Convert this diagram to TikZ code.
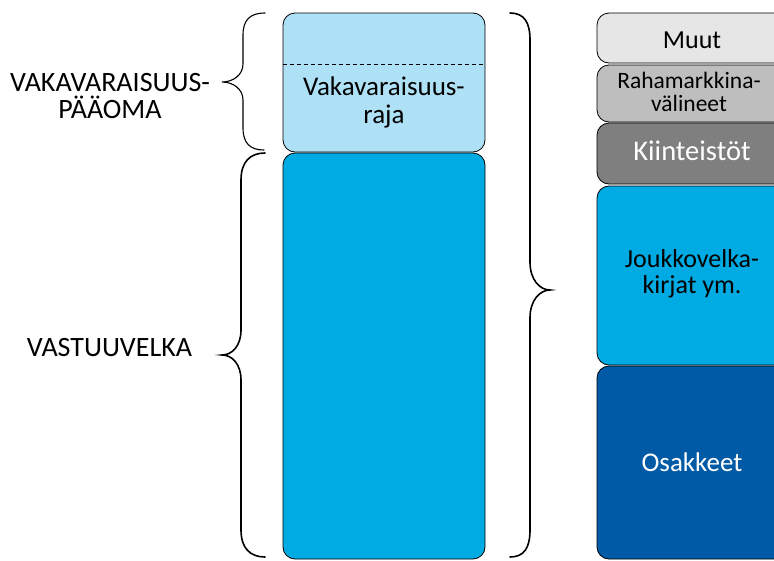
\documentclass[tikz,border=0pt]{standalone}
\usepackage{fontspec}
\setmainfont{Carlito}
\definecolor{lightblue}{HTML}{AEE1F6}
\definecolor{midblue}{HTML}{00ABE3}
\definecolor{darkblue}{HTML}{005AA5}
\definecolor{gMuut}{HTML}{E6E6E6}
\definecolor{gRaha}{HTML}{BEBEBE}
\definecolor{gKiint}{HTML}{7F7F7F}
\begin{document}
\begin{tikzpicture}[x=1pt,y=-1pt,
  box/.style={draw=black,line width=0.8pt,rounded corners=12pt,inner sep=0pt},
  txt/.style={align=center,inner sep=0pt},
  bracepath/.style={draw=black,line width=1.6pt,line cap=round}]
\clip (0,0) rectangle (774,560);
\fill[white] (0,0) rectangle (774,560);
% main column
\node[box,fill=lightblue,minimum width=202pt,minimum height=139pt] (vr) at (384,82.5) {};
\draw[line width=0.7pt,dash pattern=on 4pt off 3pt] (vr.west |- 0,64) -- (vr.east |- 0,64);
\node[txt,font=\fontsize{27}{28}\selectfont] (vrtext) at (384,102.3) {Vakavaraisuus-\\raja};
\node[box,fill=midblue,minimum width=202pt,minimum height=406pt] (vv) at (384,356) {};
% right column
\node[box,fill=gMuut,minimum width=190pt,minimum height=50pt] (muut) at (692,38) {};
\node[box,fill=gRaha,minimum width=190pt,minimum height=57pt] (raha) at (692,93.5) {};
\node[box,fill=gKiint,minimum width=190pt,minimum height=61pt] (kiint) at (692,153.5) {};
\node[box,fill=midblue,minimum width=190pt,minimum height=179pt] (jvk) at (692,275.5) {};
\node[box,fill=darkblue,minimum width=190pt,minimum height=193pt] (osak) at (692,462.5) {};
\node[txt,anchor=base,font=\fontsize{26}{26}\selectfont] (muutt) at (692,48) {Muut};
\node[txt,font=\fontsize{23.5}{22.5}\selectfont] (rahat) at (689,92) {Rahamarkkina-\\välineet};
\node[txt,anchor=base,text=white,font=\fontsize{28.5}{28.5}\selectfont] (kiintt) at (692,160) {Kiinteistöt};
\node[txt,font=\fontsize{26}{26}\selectfont] (jvkt) at (692,273.5) {Joukkovelka-\\kirjat ym.};
\node[txt,anchor=base,text=white,font=\fontsize{27}{27}\selectfont] (osakt) at (692,471) {Osakkeet};
% left labels
\node[txt,font=\fontsize{28}{27}\selectfont] (vpl) at (110,96.5) {VAKAVARAISUUS-\\PÄÄOMA};
\node[txt,anchor=base,font=\fontsize{28}{28}\selectfont] (vvl) at (109.5,356.7) {VASTUUVELKA};
% braces
\coordinate (b1t) at (265,13);
\coordinate (b1b) at (264,150);
\coordinate (b1m) at (222,82);
\draw[bracepath,line width=1.1pt] (b1t) .. controls (250,13) and (243,20) .. (243,35) -- (243,64)
  .. controls (243,75) and (233,82) .. (b1m) .. controls (233,82) and (243,89) .. (243,100)
  -- (243,128) .. controls (243,143) and (250,150) .. (b1b);
\coordinate (b2t) at (265,153);
\coordinate (b2b) at (265,557);
\coordinate (b2m) at (222,355);
\draw[bracepath] (b2t) .. controls (250,153) and (241,162) .. (241,180) -- (241,330)
  .. controls (241,346) and (232,355) .. (b2m) .. controls (232,355) and (241,364) .. (241,380)
  -- (241,530) .. controls (241,548) and (250,557) .. (b2b);
\coordinate (b3t) at (510,13);
\coordinate (b3b) at (510,557);
\coordinate (b3m) at (550,290);
\draw[bracepath] (b3t) .. controls (524,13) and (530,22) .. (530,40) -- (530,262)
  .. controls (530,280) and (540,290) .. (b3m) .. controls (540,290) and (530,300) .. (530,318)
  -- (530,530) .. controls (530,548) and (524,557) .. (b3b);
\end{tikzpicture}
\end{document}
